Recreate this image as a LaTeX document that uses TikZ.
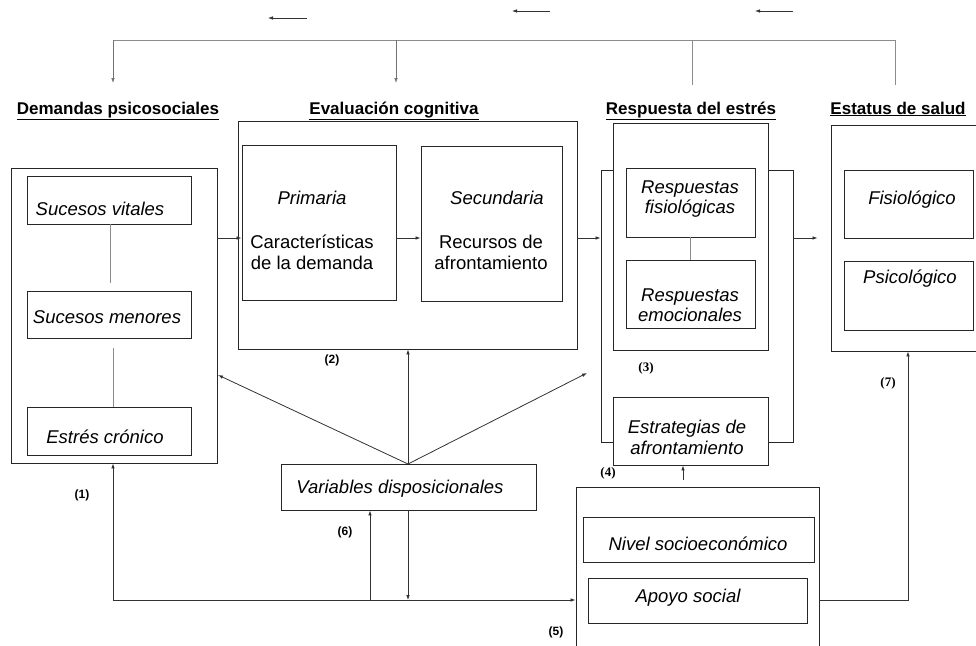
\documentclass[tikz,border=0pt]{standalone}
\usepackage{fontspec}
\setmainfont{Liberation Sans}
\newfontfamily\numfont{Liberation Serif}
\usetikzlibrary{arrows.meta}
\begin{document}
\begin{tikzpicture}[x=1pt,y=-1pt,
  box/.style={draw=black!85, fill=white, line width=0.9pt, inner sep=0pt},
  txt/.style={font=\fontsize{18.5}{21}\selectfont\itshape, align=center, inner sep=0pt},
  rtxt/.style={font=\fontsize{18.5}{21}\selectfont, align=center, inner sep=0pt},
  head/.style={font=\fontsize{17}{20}\selectfont\bfseries, inner sep=0pt, text height=12.5pt, text depth=4.5pt},
  numA/.style={font=\fontsize{12}{14}\selectfont\bfseries, inner sep=0pt},
  numB/.style={font=\fontsize{13}{15}\selectfont\numfont\bfseries, inner sep=0pt},
  arr/.style={-{Latex[length=5pt,width=3.6pt]}, line width=0.8pt, draw=black!80},
  ln/.style={line width=0.8pt, draw=black!80},
  gln/.style={line width=0.8pt, draw=black!45},
]
\useasboundingbox (0,0) rectangle (976,645);
\fill[white] (0,0) rectangle (976,645);
\clip (0,0) rectangle (976,645);

% ---- top feedback ----
\coordinate (s1a) at (307,18); \coordinate (s1b) at (268,18);
\coordinate (s2a) at (550,11); \coordinate (s2b) at (512,11);
\coordinate (s3a) at (793,11); \coordinate (s3b) at (755,11);
\draw[arr] (s1a) -- (s1b);
\draw[arr] (s2a) -- (s2b);
\draw[arr] (s3a) -- (s3b);

\coordinate (t1) at (113,40); \coordinate (t2) at (396,40);
\coordinate (t3) at (692,40); \coordinate (t4) at (895,40);
\coordinate (d1) at (113,83); \coordinate (d2) at (396,83);
\coordinate (d3) at (692,85); \coordinate (d4) at (895,85);
\draw[gln] (t1) -- (t4);
\draw[arr,draw=black!55] (t1) -- (d1);
\draw[arr,draw=black!55] (t2) -- (d2);
\draw[gln] (t3) -- (d3);
\draw[gln] (t4) -- (d4);

% ---- headings ----
\node[head] (h1) at (118,110) {\underline{Demandas psicosociales}};
\node[head] (h2) at (394,110) {\underline{Evaluación cognitiva}};
\node[head] (h3) at (691,110) {\underline{Respuesta del estrés}};
\node[head] (h4) at (898,110) {\underline{Estatus de salud}};

% ---- Demandas psicosociales ----
\node[box, minimum width=206pt, minimum height=295pt] (A) at (114,315.5) {};
\node[box, minimum width=164pt, minimum height=48pt] (vit) at (109,200) {};
\node[box, minimum width=164pt, minimum height=47pt] (men) at (109,314.5) {};
\node[box, minimum width=164pt, minimum height=48pt] (cro) at (109,431) {};
\node[txt] (vitT) at (100,209) {Sucesos vitales};
\node[txt] (menT) at (107,317) {Sucesos menores};
\node[txt] (croT) at (105,437) {Estrés crónico};
\coordinate (g1) at (110,283);
\coordinate (g2) at (113,348);
\draw[gln] (vit.south -| g1) -- (g1);
\draw[gln] (g2) -- (cro.north -| g2);

% ---- Evaluación cognitiva ----
\node[box, minimum width=339pt, minimum height=228pt] (B) at (407.5,235) {};
\node[box, minimum width=154pt, minimum height=155pt] (prim) at (319,222.5) {};
\node[box, minimum width=141pt, minimum height=155pt] (sec) at (491.5,223.5) {};
\node[txt] (primT) at (312,198) {Primaria};
\node[rtxt] (primT2) at (312,252.5) {Características\\de la demanda};
\node[txt] (secT) at (497,198) {Secundaria};
\node[rtxt] (secT2) at (491,252.5) {Recursos de\\afrontamiento};

% ---- Respuesta del estrés ----
\node[box, fill=none, minimum width=192pt, minimum height=272pt] (brk) at (697,306) {};
\node[box, minimum width=155pt, minimum height=227pt] (R) at (690.5,236.5) {};
\node[box, minimum width=129pt, minimum height=69pt] (fis) at (690.5,202.5) {};
\node[box, minimum width=129pt, minimum height=68pt] (emo) at (690.5,294) {};
\draw[gln] (fis.south) -- (emo.north);
\node[txt, font=\fontsize{18.5}{20}\selectfont\itshape] (fisT) at (690,199.5) {Respuestas\\fisiológicas};
\node[txt, font=\fontsize{18.5}{20}\selectfont\itshape] (emoT) at (690,305.5) {Respuestas\\emocionales};
\node[box, minimum width=155pt, minimum height=68pt] (estr) at (690.5,431) {};
\node[txt] (estrT) at (687,437) {Estrategias de\\afrontamiento};

% ---- Estatus de salud ----
\node[box, minimum width=160pt, minimum height=226pt] (E) at (911,238) {};
\node[box, minimum width=129pt, minimum height=68pt] (fisio) at (908.5,204) {};
\node[box, minimum width=129pt, minimum height=69pt] (psico) at (908.5,295.5) {};
\node[txt] (fisioT) at (912,200) {Fisiológico};
\node[txt] (psicoT) at (910,279) {Psicológico};

% ---- Variables disposicionales ----
\node[box, minimum width=255pt, minimum height=46pt] (V) at (408.5,487) {};
\node[txt] (VT) at (400,489) {Variables disposicionales};

% ---- Social ----
\node[box, minimum width=243pt, minimum height=173pt] (S) at (697.5,573.5) {};
\node[box, minimum width=231pt, minimum height=45pt] (niv) at (698.5,539.5) {};
\node[box, minimum width=219pt, minimum height=45pt] (apo) at (697.5,600.5) {};
\node[txt] (nivT) at (698,544) {Nivel socioeconómico};
\node[txt] (apoT) at (688,598) {Apoyo social};

% ---- main flow ----
\coordinate (flow) at (0,238);
\draw[arr] (A.east |- flow) -- (prim.west |- flow);
\draw[arr] (prim.east |- flow) -- (sec.west |- flow);
\draw[arr] (B.east |- flow) -- (brk.west |- flow);
\draw[arr, shorten >=13pt] (brk.east |- flow) -- (E.west |- flow);

% ---- variables arrows ----
\coordinate (vtop) at (408,464);
\coordinate (toA) at (218,375);
\coordinate (toR) at (587,373);
\draw[arr] (vtop) -- (toA);
\draw[arr] (vtop) -- (B.south -| vtop);
\draw[arr] (vtop) -- (toR);

% ---- bottom loop ----
\coordinate (corner) at (113,600);
\coordinate (j1) at (370,600);
\coordinate (j2) at (408,600);
\draw[arr] (corner) -- (A.south -| corner);
\draw[arr] (corner) -- (S.west |- corner);
\draw[arr] (j1) -- (V.south -| j1);
\draw[arr] (V.south -| j2) -- (j2);
\coordinate (sr) at (908,600);
\draw[arr] (S.east |- sr) -- (sr) -- (E.south -| sr);
\coordinate (s4) at (683,480);
\draw[arr] (s4) -- (estr.south -| s4);

% ---- numbers ----
\node[numA] (n1) at (82,495) {(1)};
\node[numA] (n2) at (332,360) {(2)};
\node[numB] (n3) at (646,368) {(3)};
\node[numB] (n4) at (608,473) {(4)};
\node[numA] (n5) at (556,632) {(5)};
\node[numA] (n6) at (345,532) {(6)};
\node[numB] (n7) at (888,383) {(7)};
\end{tikzpicture}
\end{document}
